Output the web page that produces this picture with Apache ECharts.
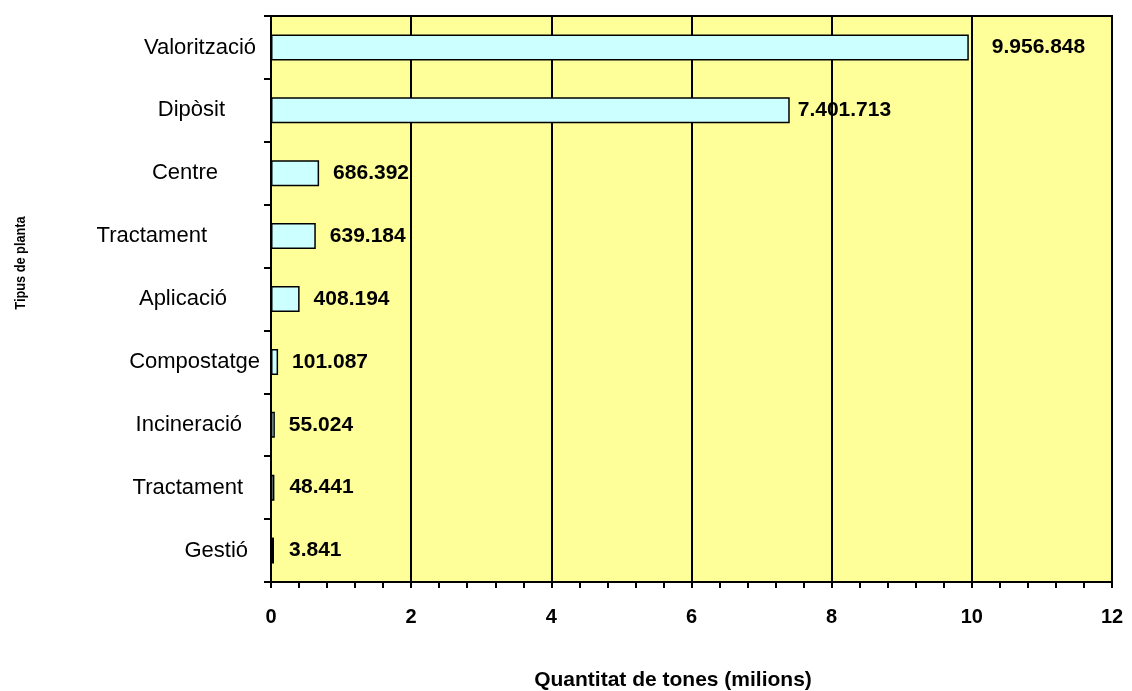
<!DOCTYPE html>
<html>
<head>
<meta charset="utf-8">
<script src="https://cdn.jsdelivr.net/npm/echarts@6/dist/echarts.min.js"></script>
<style>
  html, body { margin: 0; padding: 0; background: #fff; }
  #chart { width: 1132px; height: 691px; }
</style>
</head>
<body>
<div id="chart"></div>
<script>
// categories (top to bottom)
const plantTypes = ['Valorització', 'Dipòsit', 'Centre', 'Tractament', 'Aplicació', 'Compostatge', 'Incineració', 'Tractament', 'Gestió']
// tones
const tones = [9956848, 7401713, 686392, 639184, 408194, 101087, 55024, 48441, 3841]
// x ticks (milions)
const xTicks = [0, 2, 4, 6, 8, 10, 12]

// category labels are not aligned on the same right edge in the original
const labelPadRight = [7, 38, 45, 56, 36, 3, 21, 20, 15]
// gap between bar end and value label
const valueGap = [23, 8, 14, 14, 14, 14, 14, 15, 15]

const fmt = (v) => String(v).replace(/\B(?=(\d{3})+(?!\d))/g, '.')

const font = 'Arial, "Liberation Sans", sans-serif'

const rich = {}
labelPadRight.forEach((p, i) => {
  rich['c' + i] = { fontSize: 22, color: '#000', fontFamily: font, padding: [0, p, 0, 0] }
})

const chart = echarts.init(document.getElementById('chart'))

const option = {
  animation: false,
  textStyle: { fontFamily: font, color: '#000' },
  grid: {
    left: 271, right: 20, top: 16, bottom: 109,
    show: true,
    backgroundColor: '#FFFF99',
    borderColor: '#000',
    borderWidth: 2
  },
  graphic: [
    {
      type: 'text',
      x: 21, y: 263,
      rotation: Math.PI / 2,
      scaleX: 0.85,
      style: {
        text: 'Tipus de planta',
        fontSize: 15,
        fontWeight: 'bold',
        fontFamily: font,
        fill: '#000',
        align: 'center',
        verticalAlign: 'middle'
      }
    },
    {
      type: 'text',
      x: 673, y: 680,
      style: {
        text: 'Quantitat de tones (milions)',
        fontSize: 21,
        fontWeight: 'bold',
        fontFamily: font,
        fill: '#000',
        align: 'center',
        verticalAlign: 'middle'
      }
    }
  ],
  xAxis: {
    type: 'value',
    min: xTicks[0],
    max: xTicks[xTicks.length - 1],
    interval: 2,
    axisLine: { show: true, lineStyle: { color: '#000', width: 2 } },
    axisTick: { show: true, length: 6, inside: false, lineStyle: { color: '#000', width: 2 } },
    minorTick: { show: true, splitNumber: 5, length: 6, lineStyle: { color: '#000', width: 2 } },
    axisLabel: { fontSize: 20, fontWeight: 'bold', color: '#000', margin: 25, fontFamily: font },
    splitLine: { show: true, lineStyle: { color: '#000', width: 2 } }
  },
  yAxis: {
    type: 'category',
    data: plantTypes,
    inverse: true,
    axisLine: { show: true, lineStyle: { color: '#000', width: 2 } },
    axisTick: { show: true, length: 7, lineStyle: { color: '#000', width: 2 } },
    axisLabel: {
      margin: 8,
      color: '#000',
      fontSize: 22,
      fontFamily: font,
      formatter: (v, i) => '{c' + i + '|' + v + '}',
      rich: rich
    },
    splitLine: { show: false }
  },
  series: [{
    type: 'bar',
    barWidth: 26,
    barMinHeight: 3,
    data: tones.map((v, i) => ({
      value: v / 1e6,
      label: { distance: valueGap[i] }
    })),
    itemStyle: { color: '#CCFFFF', borderColor: '#000', borderWidth: 1.5 },
    label: {
      show: true,
      position: 'right',
      fontSize: 21,
      fontWeight: 'bold',
      color: '#000',
      fontFamily: font,
      formatter: (p) => fmt(tones[p.dataIndex])
    }
  }]
}

chart.setOption(option)
</script>
</body>
</html>
